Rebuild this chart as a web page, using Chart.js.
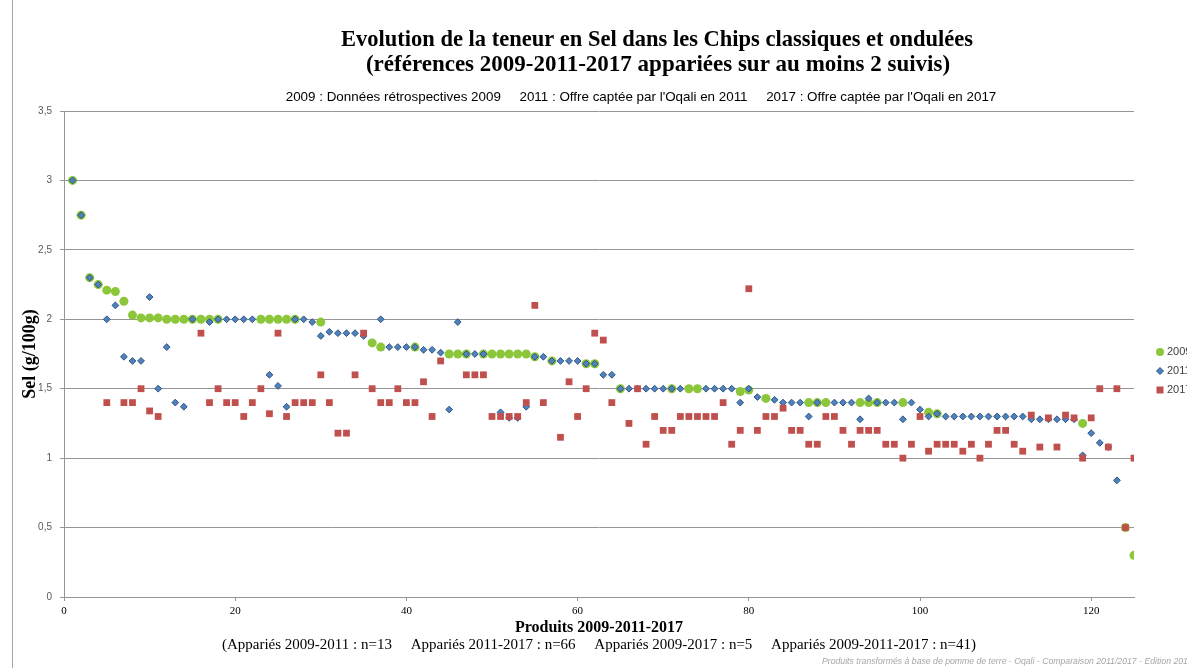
<!DOCTYPE html>
<html lang="fr">
<head>
<meta charset="utf-8">
<title>Teneur en sel - Chips classiques et ondulées</title>
<script src="https://cdn.jsdelivr.net/npm/chart.js@4.4.1/dist/chart.umd.min.js"></script>
<style>
  html, body { margin: 0; padding: 0; background: #fff; overflow: hidden; }
  #wrap { width: 1187px; height: 668px; }
</style>
</head>
<body>
<div id="wrap"><canvas id="selChart" width="1187" height="668"></canvas></div>
<script>
// Teneur en sel (g/100g) par produit, rangée par ordre de référence (produit 1 à 125)
// null = produit absent du suivi pour cette année
const sel2009 = [
  3.00, 2.75, 2.30, 2.25, 2.21, 2.20, 2.13, 2.03, 2.01, 2.01,   // 1-10
  2.01, 2.00, 2.00, 2.00, 2.00, 2.00, 2.00, 2.00, null, null,   // 11-20
  null, null, 2.00, 2.00, 2.00, 2.00, 2.00, null, null, 1.98,   // 21-30
  null, null, null, null, null, 1.83, 1.80, null, null, null,   // 31-40
  1.80, null, null, null, 1.75, 1.75, 1.75, null, 1.75, 1.75,   // 41-50
  1.75, 1.75, 1.75, 1.75, 1.73, null, 1.70, null, null, null,   // 51-60
  1.68, 1.68, null, null, 1.50, null, null, null, null, null,   // 61-70
  1.50, null, 1.50, 1.50, null, null, null, null, 1.48, 1.49,   // 71-80
  null, 1.43, null, null, null, null, 1.40, 1.40, 1.40, null,   // 81-90
  null, null, 1.40, 1.40, 1.40, null, null, 1.40, null, null,   // 91-100
  1.33, 1.32, null, null, null, null, null, null, null, null,   // 101-110
  null, null, null, null, null, null, null, null, 1.25, null,   // 111-120
  null, null, null, 0.50, 0.30                                   // 121-125
];

const sel2011 = [
  3.00, 2.75, 2.30, 2.25, 2.00, 2.10, 1.73, 1.70, 1.70, 2.16,   // 1-10
  1.50, 1.80, 1.40, 1.37, 2.00, null, 1.98, 2.00, 2.00, 2.00,   // 11-20
  2.00, 2.00, null, 1.60, 1.52, 1.37, 2.00, 2.00, 1.98, 1.88,   // 21-30
  1.91, 1.90, 1.90, 1.90, 1.88, null, 2.00, 1.80, 1.80, 1.80,   // 31-40
  1.80, 1.78, 1.78, 1.76, 1.35, 1.98, 1.75, 1.75, 1.75, null,   // 41-50
  1.33, 1.29, 1.29, 1.37, 1.73, 1.73, 1.70, 1.70, 1.70, 1.70,   // 51-60
  1.68, 1.68, 1.60, 1.60, 1.50, 1.50, 1.50, 1.50, 1.50, 1.50,   // 61-70
  1.50, 1.50, null, null, 1.50, 1.50, 1.50, 1.50, 1.40, 1.50,   // 71-80
  1.44, null, 1.42, 1.40, 1.40, 1.40, 1.30, 1.40, null, 1.40,   // 81-90
  1.40, 1.40, 1.28, 1.43, 1.40, 1.40, 1.40, 1.28, 1.40, 1.35,   // 91-100
  1.30, 1.32, 1.30, 1.30, 1.30, 1.30, 1.30, 1.30, 1.30, 1.30,   // 101-110
  1.30, 1.30, 1.28, 1.28, 1.28, 1.28, 1.28, 1.28, 1.02, 1.18,   // 111-120
  1.11, 1.08, 0.84, null, null                                   // 121-125
];

const sel2017 = [
  null, null, null, null, 1.40, null, 1.40, 1.40, 1.50, 1.34,   // 1-10
  1.30, null, null, null, null, 1.90, 1.40, 1.50, 1.40, 1.40,   // 11-20
  1.30, 1.40, 1.50, 1.32, 1.90, 1.30, 1.40, 1.40, 1.40, 1.60,   // 21-30
  1.40, 1.18, 1.18, 1.60, 1.90, 1.50, 1.40, 1.40, 1.50, 1.40,   // 31-40
  1.40, 1.55, 1.30, 1.70, null, null, 1.60, 1.60, 1.60, 1.30,   // 41-50
  1.30, 1.30, 1.30, 1.40, 2.10, 1.40, null, 1.15, 1.55, 1.30,   // 51-60
  1.50, 1.90, 1.85, 1.40, null, 1.25, 1.50, 1.10, 1.30, 1.20,   // 61-70
  1.20, 1.30, 1.30, 1.30, 1.30, 1.30, 1.40, 1.10, 1.20, 2.22,   // 71-80
  1.20, 1.30, 1.30, 1.36, 1.20, 1.20, 1.10, 1.10, 1.30, 1.30,   // 81-90
  1.20, 1.10, 1.20, 1.20, 1.20, 1.10, 1.10, 1.00, 1.10, 1.30,   // 91-100
  1.05, 1.10, 1.10, 1.10, 1.05, 1.10, 1.00, 1.10, 1.20, 1.20,   // 101-110
  1.10, 1.05, 1.31, 1.08, 1.29, 1.08, 1.31, 1.29, 1.00, 1.29,   // 111-120
  1.50, 1.08, 1.50, 0.50, 1.00                                   // 121-125
];

const annees = ['2009', '2011', '2017'];
const yTicks = [0, 0.5, 1, 1.5, 2, 2.5, 3, 3.5];
const xTicks = [0, 20, 40, 60, 80, 100, 120];

const titre = [
  'Evolution de la teneur en Sel dans les Chips classiques et ondulées',
  '(références 2009-2011-2017 appariées sur au moins 2 suivis)'
];
const sousTitre = "2009 : Données rétrospectives 2009     2011 : Offre captée par l'Oqali en 2011     2017 : Offre captée par l'Oqali en 2017";
const noteAppariement = '(Appariés 2009-2011 : n=13     Appariés 2011-2017 : n=66     Appariés 2009-2017 : n=5     Appariés 2009-2011-2017 : n=41)';
const source = 'Produits transformés à base de pomme de terre - Oqali - Comparaison 2011/2017 - Edition 2019';

const couleurs = {
  '2009': '#8cc63a',
  '2011': '#4f81bd',
  '2017': '#c0504d'
};

// transforme une série en points {x: n° produit, y: sel}
function toPoints(values) {
  const pts = [];
  values.forEach((v, i) => {
    if (v !== null) pts.push({ x: i + 1, y: v });
  });
  return pts;
}

const serifFont = '"Liberation Serif", "DejaVu Serif", serif';
const sansFont = '"Liberation Sans", "DejaVu Sans", sans-serif';

// titres, légende à droite, note du bas et source, dessinés à la main
const extraTexts = {
  id: 'extraTexts',
  afterDraw(chart) {
    const ctx = chart.ctx;
    ctx.save();

    // trait du cadre à gauche
    ctx.strokeStyle = '#a6a6a6';
    ctx.lineWidth = 1;
    ctx.beginPath();
    ctx.moveTo(12.5, 0);
    ctx.lineTo(12.5, 668);
    ctx.stroke();

    ctx.textAlign = 'center';
    ctx.textBaseline = 'middle';
    ctx.fillStyle = '#000';

    ctx.font = 'bold 22.5px ' + serifFont;
    ctx.fillText(titre[0], 657, 40);
    ctx.font = 'bold 23px ' + serifFont;
    ctx.fillText(titre[1], 658, 65);

    ctx.font = '13.4px ' + sansFont;
    ctx.fillText(sousTitre, 641, 97);

    ctx.font = '15px ' + serifFont;
    ctx.fillText(noteAppariement, 599, 645);

    ctx.font = 'italic 8.7px ' + sansFont;
    ctx.fillStyle = '#a6a6a6';
    ctx.textAlign = 'left';
    ctx.fillText(source, 822, 662);

    // légende
    const lx = 1160;
    const ly = [352, 371, 390];
    ctx.font = '11px ' + sansFont;
    ctx.textBaseline = 'middle';
    annees.forEach((a, k) => {
      const y = ly[k];
      ctx.fillStyle = couleurs[a];
      if (a === '2009') {
        ctx.beginPath();
        ctx.arc(lx, y, 4, 0, Math.PI * 2);
        ctx.fill();
      } else if (a === '2011') {
        ctx.beginPath();
        ctx.moveTo(lx, y - 3.5);
        ctx.lineTo(lx + 3.5, y);
        ctx.lineTo(lx, y + 3.5);
        ctx.lineTo(lx - 3.5, y);
        ctx.closePath();
        ctx.fill();
        ctx.strokeStyle = '#2f5482';
        ctx.stroke();
      } else {
        ctx.fillRect(lx - 3.5, y - 3.5, 7, 7);
      }
      ctx.fillStyle = '#404040';
      ctx.fillText(a, lx + 7, y);
    });

    ctx.restore();
  }
};

const ctx = document.getElementById('selChart').getContext('2d');

new Chart(ctx, {
  type: 'scatter',
  data: {
    datasets: [
      {
        label: annees[0],
        data: toPoints(sel2009),
        pointStyle: 'circle',
        pointRadius: 4.5,
        backgroundColor: couleurs['2009'],
        borderColor: couleurs['2009'],
        borderWidth: 0,
        order: 3
      },
      {
        label: annees[1],
        data: toPoints(sel2011),
        pointStyle: 'rectRot',
        pointRadius: 3.4,
        backgroundColor: couleurs['2011'],
        borderColor: '#2f5482',
        borderWidth: 1,
        order: 2
      },
      {
        label: annees[2],
        data: toPoints(sel2017),
        pointStyle: 'rect',
        pointRadius: 4.8,
        backgroundColor: couleurs['2017'],
        borderColor: couleurs['2017'],
        borderWidth: 0,
        order: 1
      }
    ]
  },
  options: {
    responsive: false,
    animation: false,
    layout: {
      padding: { left: 0, right: 53, top: 111, bottom: 0 }
    },
    plugins: {
      legend: { display: false },
      tooltip: { enabled: false },
      title: { display: false }
    },
    scales: {
      x: {
        type: 'linear',
        min: 0,
        max: 125,
        afterFit(scale) { scale.height = 71; },
        afterBuildTicks(scale) { scale.ticks = xTicks.map(v => ({ value: v })); },
        ticks: {
          color: '#000',
          font: { family: serifFont, size: 11 },
          padding: 4
        },
        grid: {
          drawOnChartArea: false,
          drawTicks: true,
          tickLength: 4,
          color: '#969696'
        },
        border: { color: '#969696', width: 1 },
        title: {
          display: true,
          text: 'Produits 2009-2011-2017',
          color: '#000',
          font: { family: serifFont, size: 16, weight: 'bold', lineHeight: 1.2 },
          padding: 30.4
        }
      },
      y: {
        min: 0,
        max: 3.5,
        afterFit(scale) { scale.width = 64; },
        afterBuildTicks(scale) { scale.ticks = yTicks.map(v => ({ value: v })); },
        ticks: {
          color: '#595959',
          font: { family: sansFont, size: 10 },
          padding: 8,
          callback: (v) => String(v).replace('.', ',')
        },
        grid: {
          color: '#969696',
          lineWidth: 1,
          drawTicks: true,
          tickLength: 4
        },
        border: { color: '#969696', width: 1 },
        title: {
          display: true,
          text: 'Sel (g/100g)',
          color: '#000',
          font: { family: serifFont, size: 18, weight: 'bold', lineHeight: 1.2 },
          padding: 19.2
        }
      }
    }
  },
  plugins: [extraTexts]
});
</script>
</body>
</html>
